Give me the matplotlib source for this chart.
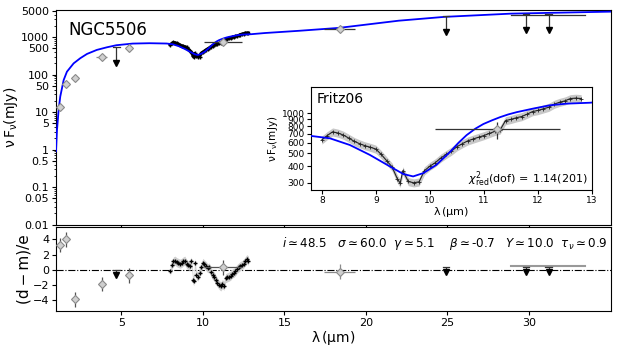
import numpy as np
import matplotlib
matplotlib.use("Agg")
import matplotlib.pyplot as plt
from matplotlib.ticker import FixedLocator, NullLocator, LogLocator, NullFormatter

# photometric detections
phot_lam = [1.25, 1.6, 2.15, 3.8, 5.5, 11.25, 18.4]
phot_flux = [13.5, 55, 79, 300, 508, 760, 1650]
phot_xerr = [0, 0, 0, 0.35, 0, 1.15, 0.95]
phot_res = [3.3, 4.0, -3.9, -1.9, -0.75, 0.3, -0.25]

# upper limits
ul_lam = [4.7, 24.9, 29.8, 31.2]
ul_flux = [540, 3600, 4100, 4100]
ul_res_top = [0.0, 0.4, 0.4, 0.4]
ul_res_bot = [-0.65, -0.35, -0.3, -0.3]

# wide band line at long wavelength
band_lam = 31.15
band_half = 2.25
band_flux = 3900
band_res = 0.45

# spectrum (Fritz06)
spec_lam = [8.0, 8.1, 8.2, 8.3, 8.4, 8.5, 8.6, 8.7, 8.8, 8.9, 9.0, 9.1, 9.2, 9.3,
            9.4, 9.45, 9.5, 9.6, 9.7, 9.8, 9.9, 10.0, 10.1, 10.2, 10.3, 10.4, 10.5,
            10.6, 10.7, 10.8, 10.9, 11.0, 11.1, 11.2, 11.3, 11.4, 11.5, 11.6, 11.7,
            11.8, 11.9, 12.0, 12.1, 12.2, 12.3, 12.4, 12.5, 12.6, 12.7, 12.8]
spec_flux = [630, 680, 725, 710, 685, 650, 615, 590, 570, 555, 538, 490, 440, 395,
             320, 298, 370, 307, 300, 305, 370, 400, 425, 460, 490, 520, 560,
             590, 620, 640, 660, 680, 705, 730, 750, 880, 900, 925, 945,
             985, 1030, 1050, 1080, 1110, 1170, 1210, 1240, 1290, 1300, 1290]
spec_res = [-0.2, 0.6, 1.1, 1.2, 1.0, 0.9, 0.8, 0.9, 1.1, 1.2, 0.8, 0.6, 0.5, 1.1,
            -1.3, -1.5, 0.9, -0.7, -0.9, -0.4, 0.3, 0.9, 0.7, 0.5, 0.2, 0.3, -0.3,
            -0.7, -0.9, -1.3, -1.7, -2.0, -2.2, -1.9, -2.1, -1.1, -1.0, -0.9, -0.8,
            -0.5, -0.4, -0.2, 0.1, 0.3, 0.5, 0.6, 0.8, 1.1, 1.4, 1.2]
spec_ferr = 0.07
spec_rerr = 0.6

# best-fit model
mod_lam = [1.0, 1.06, 1.16, 1.26, 1.47, 1.67, 2.08, 2.49, 2.9, 3.5, 4.12, 4.7, 5.7,
           6.73, 7.78, 8.15, 8.52, 8.89, 9.26, 9.51, 9.69, 9.88, 10.12, 10.37, 10.53,
           10.68, 10.84, 10.99, 11.15, 11.30, 11.45, 11.61, 11.91, 12.22, 12.53, 12.96,
           13.8, 15.9, 18.35, 22.0, 24.8, 28.9, 35.0]
mod_flux = [0.9, 3.3, 11.4, 26, 72, 120, 200, 275, 357, 457, 537, 610, 675,
            690, 677, 648, 577, 486, 398, 349, 335, 355, 409, 510, 600,
            685, 765, 830, 885, 935, 980, 1020, 1084, 1148, 1181, 1200,
            1290, 1480, 1770, 2750, 3480, 4250, 4800]

main_yticks = [0.01, 0.05, 0.1, 0.5, 1, 5, 10, 50, 100, 500, 1000, 5000]
main_ylabels = ['0.01', '0.05', '0.1', '0.5', '1', '5', '10', '50', '100', '500', '1000', '5000']
inset_yticks = [300, 400, 500, 600, 700, 800, 900, 1000]

fc, ec = '#cfcfcf', '#8a8a8a'

plt.rcParams['xtick.major.size'] = 3
plt.rcParams['ytick.major.size'] = 3
plt.rcParams['ytick.minor.size'] = 1.5
plt.rcParams['xtick.major.pad'] = 2
plt.rcParams['ytick.major.pad'] = 2

fig = plt.figure(figsize=(6.23, 3.46), dpi=100)
ax = fig.add_axes([0.0899, 0.351, 0.8902, 0.620])
axr = fig.add_axes([0.0899, 0.102, 0.8902, 0.241])
axi = fig.add_axes([0.4992, 0.451, 0.451, 0.298])

spec_lam = np.array(spec_lam)
spec_flux = np.array(spec_flux)
spec_res = np.array(spec_res)


def draw_sed(a, inset=False):
    a.plot(mod_lam, mod_flux, color='blue', lw=1.3, zorder=4)
    a.fill_between(spec_lam, spec_flux * (1 - spec_ferr), spec_flux * (1 + spec_ferr),
                   color='#c8c8c8', lw=0, zorder=2)
    if inset:
        a.plot(spec_lam, spec_flux, color='#222222', lw=0.8, marker='+', ms=3, mew=0.6, zorder=3)
    else:
        a.plot(spec_lam, spec_flux, color='black', lw=2.2, marker='+', ms=3, zorder=3)


# main SED panel
draw_sed(ax)
for lam, f, xe in zip(phot_lam, phot_flux, phot_xerr):
    ax.errorbar(lam, f, yerr=0.08 * f, xerr=xe if xe else None, fmt='D', ms=4.5,
                mfc=fc, mec=ec, mew=0.8, ecolor=ec if lam < 11 else '#333333', elinewidth=0.9,
                zorder=5)
for lam, f in zip(ul_lam, ul_flux):
    ax.vlines(lam, f / 2.6, f, color='#333333', lw=0.9, zorder=5)
    ax.plot(lam, f / 2.6, 'v', color='black', ms=4, zorder=5)
    ax.plot([lam - 0.2, lam + 0.2], [f, f], color='#333333', lw=0.9, zorder=5)
ax.plot([band_lam - band_half, band_lam + band_half], [band_flux, band_flux], color='#333333', lw=0.9)

ax.set_yscale('log')
ax.set_xlim(1.0, 35.0)
ax.set_ylim(0.01, 5300)
ax.yaxis.set_major_locator(FixedLocator(main_yticks))
ax.set_yticklabels(main_ylabels)
ax.yaxis.set_minor_locator(LogLocator(subs='auto', numticks=20))
ax.yaxis.set_minor_formatter(NullFormatter())
ax.set_xticks([5, 10, 15, 20, 25, 30])
ax.set_xticklabels([])
ax.tick_params(labelsize=8)
ax.set_ylabel(r'$\mathrm{\nu\, F_\nu (mJy)}$', fontsize=10, labelpad=1)
ax.text(0.022, 0.905, 'NGC5506', transform=ax.transAxes, fontsize=12, va='center')

# inset spectrum
draw_sed(axi, inset=True)
axi.errorbar(phot_lam[5], phot_flux[5], yerr=[[115], [100]], xerr=phot_xerr[5], fmt='D', ms=4.5,
             mfc=fc, mec=ec, mew=0.8, ecolor='#333333', elinewidth=0.9, zorder=5)
axi.set_yscale('log')
axi.set_xlim(7.8, 13.0)
axi.set_ylim(265, 1580)
axi.yaxis.set_major_locator(FixedLocator(inset_yticks))
axi.set_yticklabels([str(t) for t in inset_yticks])
axi.yaxis.set_minor_locator(NullLocator())
axi.set_xticks([8, 9, 10, 11, 12, 13])
axi.tick_params(labelsize=6.5, pad=1.5, length=3)
axi.set_xlabel(r'$\mathrm{\lambda\, (\mu m)}$', fontsize=8, labelpad=0)
axi.set_ylabel(r'$\mathrm{\nu\, F_\nu (mJy)}$', fontsize=7.5, labelpad=1)
axi.text(0.02, 0.88, 'Fritz06', transform=axi.transAxes, fontsize=10, va='center')
axi.text(0.985, 0.1, r'$\chi^2_{\rm red}$(dof)$\,=\,$1.14(201)', transform=axi.transAxes,
         fontsize=8, ha='right', va='center')

# residual panel
axr.axhline(0, color='black', lw=0.8, ls='-.', zorder=1)
axr.fill_between(spec_lam, spec_res - spec_rerr, spec_res + spec_rerr, color='#d0d0d0', lw=0, zorder=2)
axr.plot(spec_lam, spec_res, ls='none', marker='+', color='black', ms=3.5, mew=1.0, zorder=3)
for lam, r, xe in zip(phot_lam, phot_res, phot_xerr):
    axr.errorbar(lam, r, yerr=0.95, xerr=xe if lam > 10 else None, fmt='D', ms=4.5,
                 mfc=fc, mec=ec, mew=0.8, ecolor=ec if lam > 15 else '#555555', elinewidth=0.9,
                 zorder=5)
for lam, rt, rb in zip(ul_lam, ul_res_top, ul_res_bot):
    axr.vlines(lam, rb, rt, color='#333333', lw=0.9, zorder=5)
    axr.plot(lam, rb, 'v', color='black', ms=4, zorder=5)
    axr.plot([lam - 0.2, lam + 0.2], [rt, rt], color='#333333', lw=0.9, zorder=5)
axr.plot([band_lam - band_half, band_lam + band_half], [band_res, band_res], color='#999999', lw=1.5)

axr.set_xlim(1.0, 35.0)
axr.set_ylim(-5.4, 5.6)
axr.set_xticks([5, 10, 15, 20, 25, 30])
axr.set_yticks([-4, -2, 0, 2, 4])
axr.tick_params(labelsize=8)
axr.set_ylabel('(d\u2009\u2212\u2009m)/e', fontsize=11, labelpad=1)
axr.set_xlabel(r'$\mathrm{\lambda\, (\mu m)}$', fontsize=10, labelpad=1)
axr.text(0.995, 0.81,
         r'$i\simeq$48.5   $\sigma\simeq$60.0  $\gamma\simeq$5.1    $\beta\simeq$-0.7   '
         r'$Y\simeq$10.0  $\tau_\nu\simeq$0.9',
         transform=axr.transAxes, fontsize=8.6, ha='right', va='center')

fig.savefig('out.png', dpi=100)
